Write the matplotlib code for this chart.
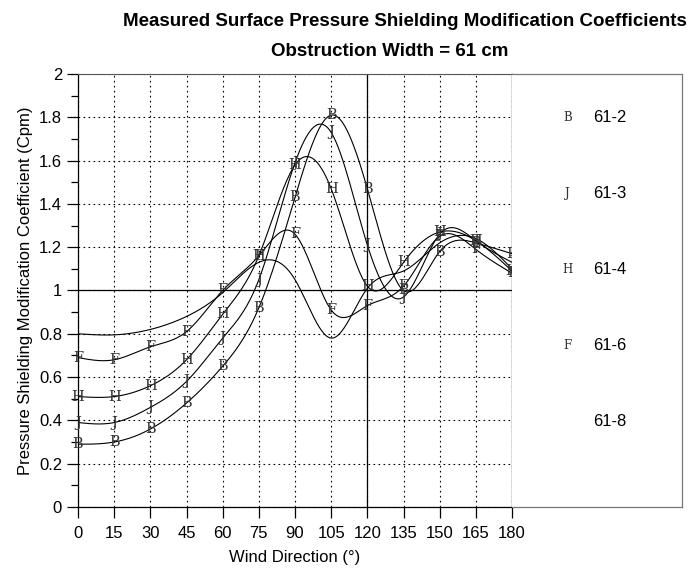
import numpy as np
import matplotlib.pyplot as plt

# wind direction (deg) and measured Cpm for each configuration
angles = [0, 15, 30, 45, 60, 75, 90, 105, 120, 135, 150, 165, 180]
cpm_61_2 = [0.29, 0.30, 0.36, 0.48, 0.65, 0.92, 1.43, 1.81, 1.47, 1.00, 1.18, 1.22, 1.17]
cpm_61_3 = [0.39, 0.39, 0.46, 0.58, 0.78, 1.05, 1.59, 1.73, 1.21, 0.97, 1.26, 1.23, 1.13]
cpm_61_4 = [0.51, 0.51, 0.56, 0.68, 0.89, 1.16, 1.58, 1.47, 1.02, 1.13, 1.27, 1.23, 1.09]
cpm_61_6 = [0.69, 0.68, 0.74, 0.81, 1.00, 1.16, 1.26, 0.91, 0.93, 1.02, 1.25, 1.19, 1.08]
cpm_61_8 = [0.80, 0.795, 0.82, 0.88, 0.99, 1.13, 1.05, 0.78, 1.01, 1.09, 1.22, 1.24, 1.10]

series = [
    ('61-2', 'B', cpm_61_2),
    ('61-3', 'J', cpm_61_3),
    ('61-4', 'H', cpm_61_4),
    ('61-6', 'F', cpm_61_6),
    ('61-8', '', cpm_61_8),
]


def natural_spline(x, y, xs):
    # plain natural cubic spline, no scipy here
    x = np.asarray(x, float)
    y = np.asarray(y, float)
    n = len(x)
    h = np.diff(x)
    A = np.zeros((n, n))
    r = np.zeros(n)
    A[0, 0] = A[-1, -1] = 1
    for i in range(1, n - 1):
        A[i, i - 1] = h[i - 1]
        A[i, i] = 2 * (h[i - 1] + h[i])
        A[i, i + 1] = h[i]
        r[i] = 6 * ((y[i + 1] - y[i]) / h[i] - (y[i] - y[i - 1]) / h[i - 1])
    m = np.linalg.solve(A, r)
    idx = np.clip(np.searchsorted(x, xs) - 1, 0, n - 2)
    x0, x1 = x[idx], x[idx + 1]
    hh = x1 - x0
    a = (x1 - xs) / hh
    b = (xs - x0) / hh
    return (a * y[idx] + b * y[idx + 1]
            + ((a ** 3 - a) * m[idx] + (b ** 3 - b) * m[idx + 1]) * hh ** 2 / 6)


plt.rcParams['font.family'] = ['Liberation Sans', 'DejaVu Sans']

fig = plt.figure(figsize=(6.99, 5.73), dpi=100)
ax = fig.add_axes([0.1116, 0.1152, 0.6209, 0.7557])
leg = fig.add_axes([0.7325, 0.1152, 0.2432, 0.7557])

xs = np.linspace(0, 180, 600)
for name, letter, vals in series:
    ax.plot(xs, natural_spline(angles, vals, xs), color='black', lw=0.8, zorder=3)
    if letter:
        for a, v in zip(angles, vals):
            ax.text(a, v, letter, ha='center', va='center', fontsize=10.5,
                    family='DejaVu Serif', color='#333333', zorder=4, clip_on=False)

ax.axhline(1, color='black', lw=0.9, zorder=2)
ax.axvline(120, color='black', lw=0.9, zorder=2)

ax.set_xlim(0, 180)
ax.set_ylim(0, 2)
ax.set_xticks(np.arange(0, 181, 15))
ax.set_yticks(np.arange(0, 2.01, 0.2))
ax.set_yticklabels(['0', '0.2', '0.4', '0.6', '0.8', '1', '1.2', '1.4', '1.6', '1.8', '2'])
ax.set_yticks(np.arange(0.1, 2, 0.2), minor=True)
ax.tick_params(axis='both', which='major', direction='out', length=8, width=0.9,
               labelsize=12, colors='black')
ax.tick_params(axis='y', which='minor', direction='out', length=5, width=0.9)
ax.tick_params(axis='x', pad=6)
ax.grid(True, which='major', linestyle=(0, (1.5, 3)), color='black', lw=0.8)
for side in ['left', 'bottom', 'right']:
    ax.spines[side].set_linewidth(0.9)
ax.spines['top'].set_color('#555555')
ax.spines['top'].set_linewidth(0.8)

ax.set_xlabel('Wind Direction (°)', fontsize=12, labelpad=6)
ax.set_ylabel('Pressure Shielding Modification Coefficient (Cpm)', fontsize=12, labelpad=4)

# legend panel on the right
leg.set_xlim(0, 1)
leg.set_ylim(0, 1)
leg.set_xticks([])
leg.set_yticks([])
leg.spines['left'].set_visible(False)
for side in ['top', 'bottom', 'right']:
    leg.spines[side].set_color('#777777')
    leg.spines[side].set_linewidth(0.9)
for i, (name, letter, vals) in enumerate(series):
    yy = 0.9 - i * 0.1755
    leg.text(0.325, yy, letter, ha='center', va='center', fontsize=8.5,
             family='DejaVu Serif', color='#333333')
    leg.text(0.475, yy, name, ha='left', va='center', fontsize=12)

fig.text(0.58, 0.962, 'Measured Surface Pressure Shielding Modification Coefficients',
         ha='center', va='center', fontsize=13.5, fontweight='bold')
fig.text(0.558, 0.91, 'Obstruction Width = 61 cm', ha='center', va='center',
         fontsize=13.5, fontweight='bold')

fig.savefig('out.png', dpi=100)
